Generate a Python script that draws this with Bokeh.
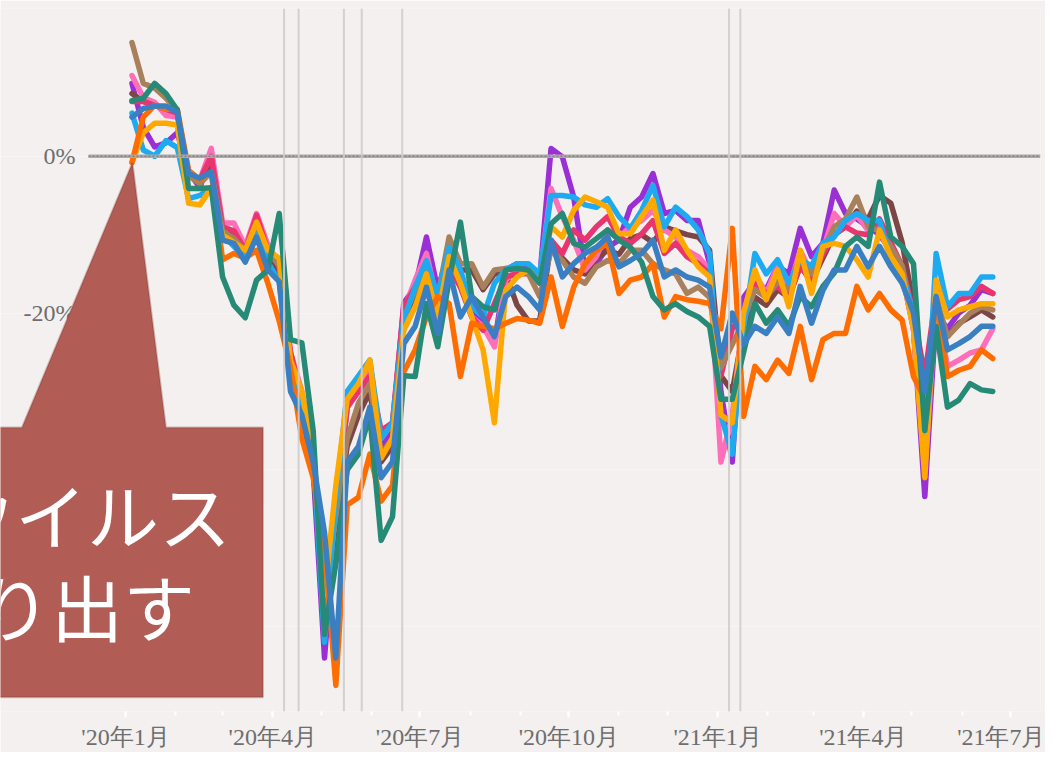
from datetime import datetime, timedelta
from bokeh.plotting import figure
from bokeh.models import Range1d, FixedTicker, Span, PolyAnnotation, Label
from bokeh.core.properties import value
from bokeh.embed import file_html
from bokeh.resources import INLINE

# ---------------- data ----------------
start = datetime(2020, 1, 5)
weeks = [start + timedelta(days=7 * k) for k in range(77)]

purple = [9.3, 3.7, 1.2, 1.7, 3.0, -2.0, -4.0, 0.5, -9.0, -11.0, -12.0, -8.5, -13.0, -15.0,
          -27, -33, -40, -64, -46, -32, -30, -27, -37, -35, -18.7,
          -16.7, -10.3, -17, -12, -15, -20, -21, -23.9, -14.5, -13.7, -14.5, -15.5, 1.0, -0.1, -5.2, -14.5,
          -13.7, -11.6, -10.7, -6.5, -5.2, -2.2, -7.3, -6.9, -8.2, -8.2,
          -13.7, -30, -39, -18, -16, -17, -14, -15, -9.2, -12.8, -11.1, -4.3, -7.3, -8, -9, -10, -12, -15,
          -22, -43.4, -20, -22, -20, -19, -17, -17.5]
light_blue = [5.5, 0.8, 0.0, 2.0, 1.1, -5.4, -5.0, -4.0, -10.0, -11.5, -13.0, -10.0, -13.5, -16.0,
              -28, -32, -38, -62, -44, -30, -28, -26, -36, -34, -20.9,
              -16.7, -13.3, -17.9, -11.6, -14.5, -19.2, -20.5, -16.2, -14.5, -13.7, -13.7, -15, -5, -5, -5.2,
              -6.2, -6.5, -5.4, -7.7, -9.2, -6.9, -3.7, -9, -6.5, -7.7, -9.4,
              -12.4, -33, -38, -22, -12.4, -15, -13.2, -16.2, -13.2, -14, -11.1, -10.3, -8.2, -7.3, -8.2, -8.2,
              -13.2, -15, -20, -38, -12.4, -19.2, -17.5, -17.5, -15.4, -15.4]
pink = [10.3, 7.5, 6.9, 5.2, 5.0, -2.0, -3.0, 1.0, -8.5, -8.5, -11.5, -7.3, -11.3, -13.7,
        -25, -30, -37, -59, -45, -32, -30, -27.5, -36, -34, -19.6,
        -15.8, -12.4, -18.8, -13.7, -16.2, -20.5, -21.7, -24.3, -15.8, -14.5, -14.5, -15.4, -4.1, -7.7, -10.7,
        -14.5, -12.8, -9.4, -10.3, -9, -8.2, -6.9, -9.4, -10.3, -12, -12.8,
        -14.5, -39, -33, -20, -15, -17.5, -14, -17, -12, -15, -12, -7.3, -9, -7.5, -9.5, -9, -12, -15,
        -22, -40, -19, -26.8, -26, -25.1, -24.7, -22]
crimson = [7.0, 7.0, 6.5, 6.0, 5.5, -2.5, -3.0, 0.0, -9.0, -9.5, -12.0, -7.5, -12.0, -14.0,
           -25, -31, -37, -58, -45, -32, -30, -28, -35, -34, -19.2,
           -16.7, -13.7, -18.8, -14.1, -16.7, -20.5, -22.2, -18.8, -15.4, -15, -15, -16.2, -10.7, -12.4, -9.4,
           -10.7, -9, -7.7, -10.3, -11.1, -9.9, -8.2, -12.4, -11.1, -12.8, -13.7,
           -15, -28, -22, -20, -16.5, -17.5, -16.6, -18, -14, -16, -12.5, -10, -9, -9.8, -10, -8, -11, -14,
           -20, -28, -17.5, -19.5, -18.3, -17.9, -16.6, -17.5]
gold = [-0.8, 3.0, 4.2, 4.2, 4.0, -6.0, -6.2, -4.0, -10.0, -11.0, -12.0, -8.4, -12.0, -13.0,
        -26, -30, -38, -56, -42, -31, -29, -26, -38.5, -36, -22.2,
        -19.2, -15, -20.5, -12.8, -16.2, -20.5, -24.7, -34, -17.1, -15.4, -14.5, -16.2, -9, -10.3, -6.9,
        -5.2, -5.8, -6.5, -9.9, -9.9, -7.7, -5.6, -12, -9.4, -12, -14.1,
        -15.4, -33, -34, -20, -14.5, -18.3, -14.5, -19.2, -12, -17.5, -11.5, -11.1, -11.5, -13.2, -15.4, -9.4,
        -12.8, -15, -22, -41, -15.8, -20.5, -19.6, -19.2, -18.8, -18.8]
orange = [-0.8, 5.0, 6.5, 6.0, 6.0, -1.8, -3.0, -2.0, -13.2, -12.4, -13.0, -12.0, -16.2, -21.0,
          -27, -36, -41, -50, -67.5, -44.5, -43.5, -38, -44, -42, -27.5,
          -24.7, -20.5, -17.9, -18.8, -28.1, -21.3, -21.7, -22, -21.3, -20.7, -20.9, -21.3, -15.4, -21.7, -16.7,
          -13.7, -12, -11.1, -17.5, -15.8, -15.4, -13.7, -20.5, -17.9, -18.3, -18.5,
          -18.8, -22, -9.2, -33.2, -26.8, -28.5, -26, -27.7, -21.7, -28.5, -23.4, -22.6, -22.6, -16.6, -19.6,
          -17.5, -19.6, -20.9, -28.1, -31, -18, -28.1, -27.3, -26.8, -24.7, -25.8]
tan = [14.5, 9.3, 8.7, 7.4, 5.9, -2.5, -3.5, -2.0, -9.5, -10.5, -12.0, -9.0, -12.0, -14.0,
       -27, -32, -39, -56, -46, -36, -31.5, -29, -38, -36, -20.5,
       -17.1, -14, -17.9, -10.3, -13.7, -13.7, -16.7, -14.5, -14.3, -14.3, -15, -17.9, -12, -13.3, -15.4,
       -16.2, -14.1, -13.3, -13.7, -12, -12, -13.7, -14.5, -15, -17.5, -16.7,
       -18, -27, -24, -21, -17, -18, -16, -17, -13, -15, -12, -9, -8, -5.2, -9, -9.5, -11.5, -14,
       -21, -36, -18, -23, -21.5, -20, -19.2, -19.6]
dark_brown = [8.0, 7.0, 6.5, 6.0, 5.5, -2.5, -3.0, -1.5, -9.0, -10.5, -12.0, -9.5, -12.5, -14.5,
              -28, -33, -40, -57, -47, -37, -33, -30, -39, -37, -21,
              -17.5, -14, -18.5, -11, -14.5, -14.5, -17, -15, -15, -19, -21, -21, -11, -13, -14.5,
              -15, -13, -12, -12.5, -10.5, -10, -11, -9, -9.5, -10, -10.3,
              -12, -28, -30, -22, -18, -19, -17, -18, -14, -16, -13, -10, -9, -7, -8, -5, -6, -11,
              -19, -35, -19, -23, -21.3, -20.5, -19.6, -20.5]
teal = [7.1, 7.4, 9.3, 8.0, 5.9, -4.1, -4.1, -4.0, -15.4, -19.0, -20.6, -15.8, -14.5, -7.3,
        -23.4, -23.8, -35, -61, -52, -40, -38, -33, -49, -46, -28,
        -28.1, -18.8, -24.3, -15.8, -8.4, -17.9, -19.2, -19.6, -14.5, -14.3, -14.5, -16.2, -8.6, -7.3, -11.1,
        -11.6, -10.5, -9.4, -10.7, -11.6, -13.5, -17.9, -19.6, -18.8, -19.8, -20.5,
        -21.7, -31, -31, -25, -18.8, -21.3, -19.6, -21.7, -17.9, -19.2, -16.6, -14.9, -11.5, -10.3, -11.5,
        -3.3, -10.3, -11.5, -13.7, -35, -21.7, -32, -31.1, -29, -29.8, -30]
steel_blue = [5.0, 6.1, 6.4, 6.4, 5.6, -2.2, -2.8, -2.0, -10.7, -11.1, -13.5, -10.3, -14.5, -16.0,
              -30, -33, -39, -48, -64, -39, -37, -32, -41, -39, -23.9,
              -21.7, -16.7, -22.6, -14.5, -20.5, -17.9, -20.5, -23, -17.9, -16.7, -17.9, -19.6, -10.7, -15.4, -13.7,
              -12.4, -11.6, -10.3, -14.1, -13.3, -12.4, -10.7, -15.4, -14.5, -15.4, -15.8,
              -16.7, -25.6, -20, -24, -21.7, -22.6, -20.5, -22.6, -16.6, -21.3, -17.1, -14.5, -14.5, -11.5, -14.1,
              -11.5, -14.1, -16.2, -20, -30, -17.9, -24.7, -23.9, -23, -21.7, -21.7]

series = [purple, dark_brown, pink, crimson, tan, light_blue, gold, orange, teal, steel_blue]
colors = ["#9b2fd6", "#7b4645", "#ff6eb8", "#e8356f", "#a8805c", "#1eaaf1", "#ffa800", "#ff6d00",
          "#268a76", "#3a7fc1"]

tick_dates = [datetime(2020, 1, 1), datetime(2020, 4, 1), datetime(2020, 7, 1), datetime(2020, 10, 1),
              datetime(2021, 1, 1), datetime(2021, 4, 1), datetime(2021, 7, 1)]
tick_labels = ["'20年1月", "'20年4月", "'20年7月", "'20年10月", "'21年1月", "'21年4月", "'21年7月"]
month_starts = [datetime(2020 + (m // 12), m % 12 + 1, 1) for m in range(0, 19)]
event_dates = [datetime(2020, 4, 8), datetime(2020, 4, 17), datetime(2020, 5, 15), datetime(2020, 5, 26),
               datetime(2020, 6, 20), datetime(2021, 1, 8), datetime(2021, 1, 15)]
y_ticks = [-60, -40, -20, 0]
y_tick_labels = ["-60%", "-40%", "-20%", "0%"]
callout_lines = ["新型コロナウイルス", "感染が広がり出す"]

# layout helpers (screen placement of guides)
x_start, x_end = datetime(2019, 10, 15, 18), datetime(2021, 7, 19, 12)
zero_line_from = datetime(2019, 12, 9, 3)
y_label_x = datetime(2019, 12, 1, 2)


def ms(d):
    return int((d - datetime(1970, 1, 1)).total_seconds() * 1000)


BG = "#f3f0ef"
p = figure(width=1045, height=752, x_axis_type="datetime", output_backend="svg",
           toolbar_location=None,
           x_range=Range1d(x_start, x_end),
           y_range=Range1d(-70.83, 18.85),
           min_border_left=0, min_border_right=5, min_border_top=8, min_border_bottom=40)
p.background_fill_color = BG
p.border_fill_color = BG
p.outline_line_color = None
p.xgrid.grid_line_color = None
p.ygrid.grid_line_color = "white"
p.ygrid.grid_line_alpha = 0.35
p.ygrid.ticker = FixedTicker(ticks=y_ticks)
p.yaxis.visible = False

for vals, col in zip(series, colors):
    p.line(weeks, vals, line_color=col, line_width=5.5, line_join="round", line_cap="round")

# zero line (drawn over the series)
p.segment(x0=[zero_line_from], y0=[0], x1=[x_end], y1=[0], line_color="#acaaa9", line_width=3.5)
p.segment(x0=[zero_line_from], y0=[0], x1=[x_end], y1=[0], line_color="#858383", line_width=1.5,
          line_dash="2 2")

# y tick labels
p.text(x=[y_label_x] * len(y_ticks), y=y_ticks, text=y_tick_labels, text_align="right",
       text_baseline="middle", text_font=value("Liberation Serif"), text_font_size="24px",
       text_color="#6e6e6e")

# x axis
p.xaxis.ticker = FixedTicker(ticks=[ms(d) for d in tick_dates], minor_ticks=[ms(d) for d in month_starts])
p.xaxis.major_label_overrides = {ms(d): lab for d, lab in zip(tick_dates, tick_labels)}
p.xaxis.axis_line_color = None
p.xaxis.major_tick_line_color = "white"
p.xaxis.minor_tick_line_color = "white"
p.xaxis.major_tick_line_width = 2
p.xaxis.minor_tick_line_width = 2
p.xaxis.major_tick_in = 0
p.xaxis.major_tick_out = 6
p.xaxis.minor_tick_in = 0
p.xaxis.minor_tick_out = 4
p.xaxis.major_label_standoff = 6
p.xaxis.major_label_text_font = "Liberation Serif"
p.xaxis.major_label_text_font_size = "24px"
p.xaxis.major_label_text_color = "#6e6e6e"

# event lines
for d in event_dates:
    p.add_layout(Span(location=ms(d), dimension="height", line_color="#cfcdcc", line_width=2, line_alpha=0.9))

# callout
tip = (datetime(2020, 1, 5, 7), -0.8)
base_l = datetime(2019, 10, 29)
base_r = datetime(2020, 1, 26)
box_r = datetime(2020, 3, 26)
box_l = datetime(2019, 5, 1)
top_y, bot_y = -34.6, -69.0
xs = [tip[0], base_r, box_r, box_r, box_l, box_l, base_l]
ys = [tip[1], top_y, top_y, bot_y, bot_y, top_y, top_y]
p.add_layout(PolyAnnotation(xs=[ms(x) for x in xs], ys=ys, fill_color="#b15d55", fill_alpha=1,
                            line_color="#7e3b36", line_width=2))
cx = datetime(2019, 8, 19)
for txt, yy in zip(callout_lines, [-45.5, -57.2]):
    p.add_layout(Label(x=ms(cx), y=yy, text=txt, text_align="center", text_baseline="middle",
                       text_color="white", text_font="Noto Sans CJK JP", text_font_size="72px"))

open("out.html", "w").write(file_html(p, INLINE))
